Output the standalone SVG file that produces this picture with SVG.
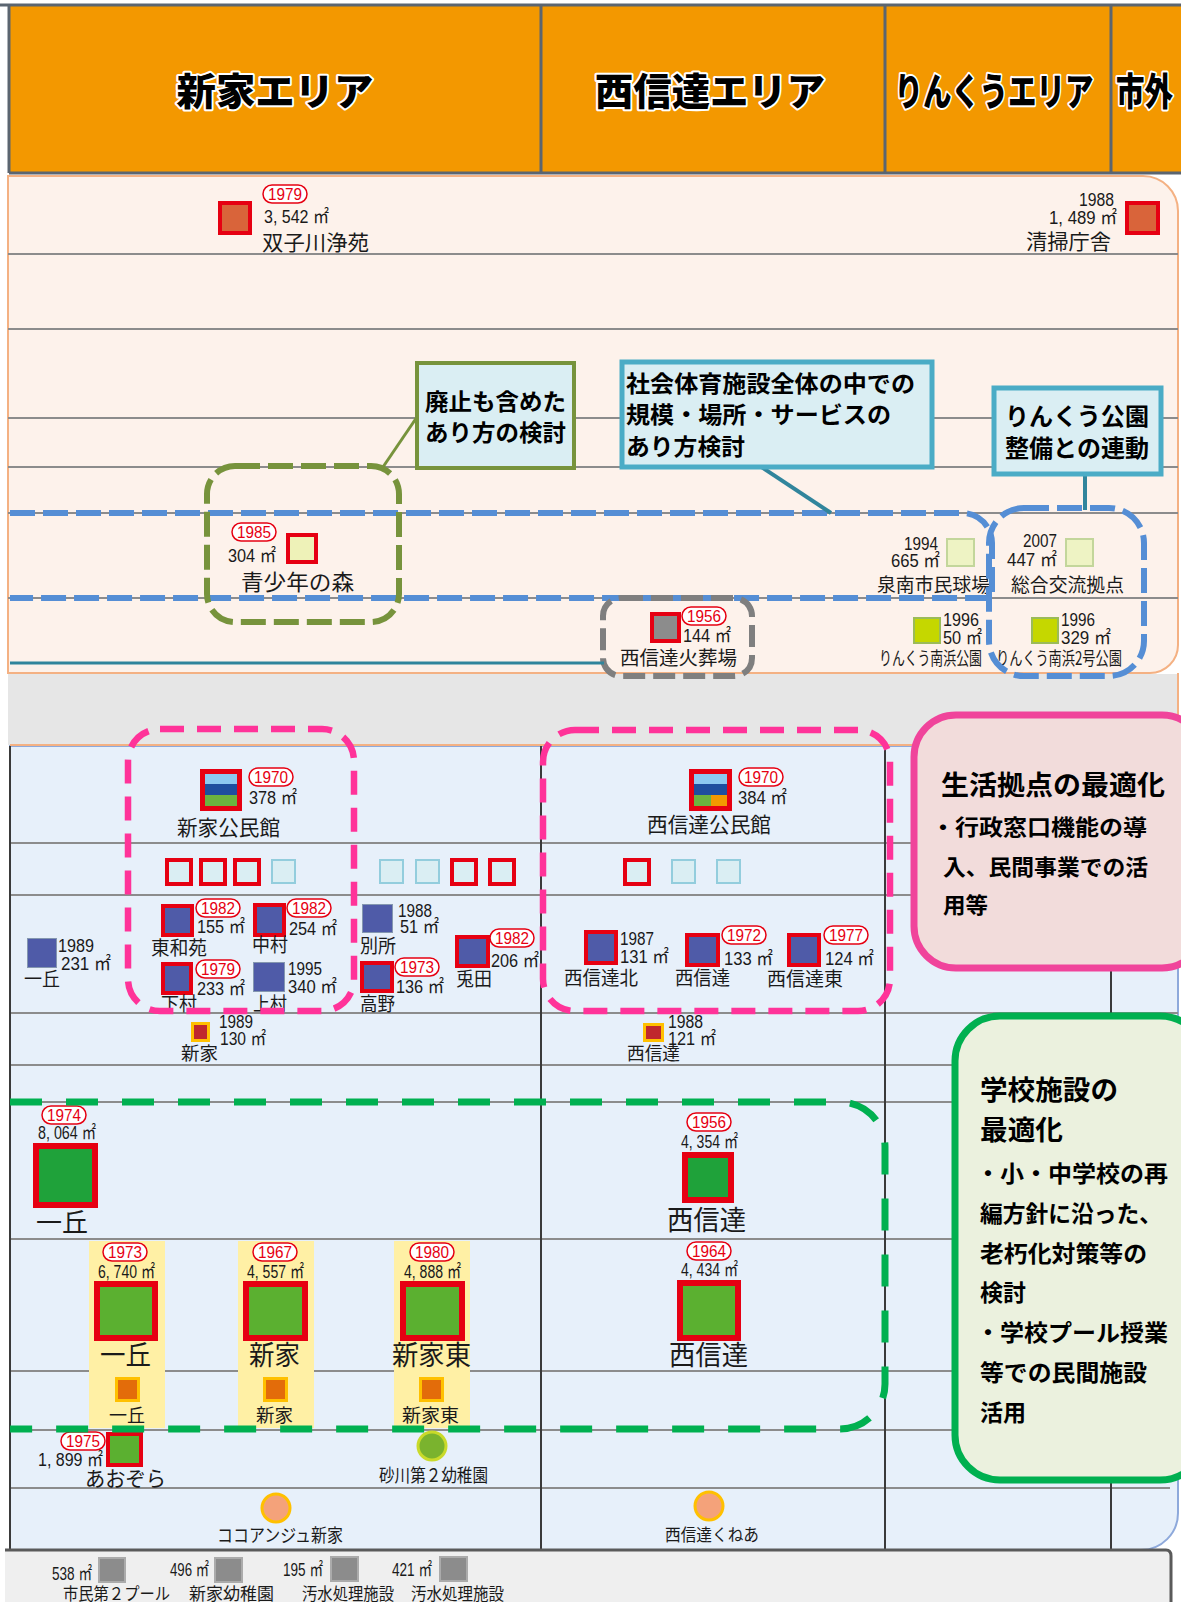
<svg xmlns="http://www.w3.org/2000/svg" width="1181" height="1602" viewBox="0 0 1181 1602">
<style>
.jp{font-family:"Noto Sans CJK JP","Noto Sans CJK SC",sans-serif;fill:#1a1a1a}
.n{font-family:"Liberation Sans","Noto Sans CJK JP",sans-serif;font-size:18px;fill:#1a1a1a}
.b{font-weight:700;fill:#000}
.hd{font-family:"Noto Sans CJK JP","Noto Sans CJK SC",sans-serif;font-weight:900;font-size:38px;fill:#000;stroke:#fff;stroke-width:4;paint-order:stroke;stroke-linejoin:round}
.yb{fill:#fff;stroke:#E60012;stroke-width:1.5}
.yt{font-family:"Liberation Sans",sans-serif;font-size:16px;fill:#E60012;text-anchor:middle}
.ln{stroke:#8C8C8C;stroke-width:2;fill:none}
.dv{stroke:#3A3A3A;stroke-width:2;fill:none}
.hb{stroke:#5B6570;stroke-width:3;fill:none}
.red{stroke:#E60012;stroke-width:4}
.cc{fill:#4F5BA8}
.pl{stroke:#8497B0;stroke-width:1}
.mb{fill:#DAEEF3}
.lb{fill:#DAEEF3;stroke:#93CDDD;stroke-width:2}
.sch{fill:#5BB030;stroke:#E60012;stroke-width:6}
.org{fill:#E36C0A;stroke:#FFC000;stroke-width:3}
.gry{fill:#8C8C8C;stroke:#ABABAB;stroke-width:2}
.box{fill:#DAEEF3}
.dash{fill:none}
</style>
<rect x="0" y="0" width="1181" height="1602" fill="#fff"/>

<g id="background">
  <path d="M8,176 H1143 A35,35 0 0 1 1178,211 V645 A28,28 0 0 1 1150,673 H8 Z" fill="#FDF2EB" stroke="#F4B183" stroke-width="2"/>
  <g class="ln">
    <line x1="8" y1="254" x2="1178" y2="254"/>
    <line x1="8" y1="329" x2="1178" y2="329"/>
    <line x1="8" y1="418" x2="1178" y2="418"/>
    <line x1="8" y1="467" x2="1178" y2="467"/>
    <line x1="8" y1="513" x2="1178" y2="513"/>
    <line x1="8" y1="598" x2="1178" y2="598"/>
  </g>
  <rect x="8" y="674" width="1170" height="71" fill="#E6E6E6"/>
  <line x1="1178" y1="673" x2="1178" y2="746" stroke="#F4B183" stroke-width="2"/>
  <path d="M10,746 H1178 V1513 A37,37 0 0 1 1141,1550 H10 Z" fill="#E7F0FA" stroke="#8EA9DB" stroke-width="2"/>
  <line x1="10" y1="745" x2="1178" y2="745" stroke="#F4B183" stroke-width="2"/>
  <g class="ln">
    <line x1="10" y1="843" x2="1178" y2="843"/>
    <line x1="10" y1="895" x2="1178" y2="895"/>
    <line x1="10" y1="1013" x2="1178" y2="1013"/>
    <line x1="10" y1="1065" x2="1178" y2="1065"/>
    <line x1="10" y1="1102" x2="1178" y2="1102"/>
    <line x1="10" y1="1239" x2="1178" y2="1239"/>
    <line x1="10" y1="1371" x2="1178" y2="1371"/>
    <line x1="10" y1="1430" x2="1178" y2="1430"/>
    <line x1="10" y1="1488" x2="1170" y2="1488"/>
  </g>
  <g class="dv">
    <line x1="541" y1="746" x2="541" y2="1550"/>
    <line x1="885" y1="746" x2="885" y2="1550"/>
    <line x1="1111" y1="746" x2="1111" y2="1550"/>
    <line x1="10" y1="746" x2="10" y2="1550"/>
  </g>
  <rect x="5" y="1551" width="1165" height="52" fill="#EFEFEF"/>
  <path d="M5,1550 H1166 Q1171,1550 1171,1556 V1602" fill="none" stroke="#5A5A5A" stroke-width="3"/>
  <rect x="89" y="1241" width="76" height="187" fill="#FFF0A5"/>
  <rect x="238" y="1241" width="76" height="187" fill="#FFF0A5"/>
  <rect x="394" y="1241" width="76" height="187" fill="#FFF0A5"/>
</g>

<g id="header">
  <rect x="9" y="5" width="1175" height="168" fill="#F39800"/>
  <g class="hb">
    <line x1="0" y1="5" x2="1181" y2="5"/>
    <line x1="9" y1="173" x2="1181" y2="173"/>
    <line x1="9" y1="5" x2="9" y2="173"/>
    <line x1="541" y1="5" x2="541" y2="173"/>
    <line x1="885" y1="5" x2="885" y2="173"/>
    <line x1="1111" y1="5" x2="1111" y2="173"/>
  </g>
  <text class="hd" x="275" y="105" text-anchor="middle" textLength="197" lengthAdjust="spacingAndGlyphs">新家エリア</text>
  <text class="hd" x="710" y="105" text-anchor="middle" textLength="230" lengthAdjust="spacingAndGlyphs">西信達エリア</text>
  <text class="hd" x="994" y="105" text-anchor="middle" textLength="199" lengthAdjust="spacingAndGlyphs">りんくうエリア</text>
  <text class="hd" x="1116" y="105" textLength="57" lengthAdjust="spacingAndGlyphs">市外</text>
</g>

<g id="nodes">
  <g id="n-futagogawa">
    <rect x="220" y="203" width="30" height="30" fill="#D9643A" class="red"/>
    <rect class="yb" x="263" y="185" width="44" height="18" rx="9"/><text class="yt" x="285" y="199.5" textLength="34" lengthAdjust="spacingAndGlyphs">1979</text>
    <text class="n" x="264" y="223" textLength="65" lengthAdjust="spacingAndGlyphs">3, 542 ㎡</text>
    <text class="jp" x="262" y="250" font-size="21" textLength="107" lengthAdjust="spacingAndGlyphs">双子川浄苑</text>
  </g>
  <g id="n-seisou">
    <rect x="1127" y="203" width="31" height="30" fill="#D9643A" class="red"/>
    <text class="n" x="1114" y="206" text-anchor="end" font-size="17" textLength="35" lengthAdjust="spacingAndGlyphs">1988</text>
    <text class="n" x="1117" y="224" text-anchor="end" textLength="68" lengthAdjust="spacingAndGlyphs">1, 489 ㎡</text>
    <text class="jp" x="1111" y="249" font-size="21" text-anchor="end" textLength="85" lengthAdjust="spacingAndGlyphs">清掃庁舎</text>
  </g>
  <g id="n-seishonen">
    <rect x="288" y="535" width="28" height="27" fill="#EEF2B8" class="red"/>
    <rect class="yb" x="232" y="523" width="44" height="18" rx="9"/><text class="yt" x="254" y="537.5" textLength="34" lengthAdjust="spacingAndGlyphs">1985</text>
    <text class="n" x="228" y="562" textLength="48" lengthAdjust="spacingAndGlyphs">304 ㎡</text>
    <text class="jp" x="241" y="590" font-size="22" textLength="113" lengthAdjust="spacingAndGlyphs">青少年の森</text>
  </g>
  <g id="n-kasoba">
    <rect x="652" y="614" width="27" height="27" fill="#8C8C8C" class="red"/>
    <rect class="yb" x="682" y="607" width="44" height="18" rx="9"/><text class="yt" x="704" y="621.5" textLength="34" lengthAdjust="spacingAndGlyphs">1956</text>
    <text class="n" x="683" y="642" textLength="48" lengthAdjust="spacingAndGlyphs">144 ㎡</text>
    <text class="jp" x="620" y="665" font-size="19" textLength="117" lengthAdjust="spacingAndGlyphs">西信達火葬場</text>
  </g>
  <g id="n-kyujo">
    <rect x="947" y="539" width="27" height="27" fill="#EEF3C4" stroke="#C3D69B" stroke-width="2"/>
    <text class="n" x="938" y="550" text-anchor="end" textLength="34" lengthAdjust="spacingAndGlyphs">1994</text>
    <text class="n" x="940" y="567" text-anchor="end" textLength="49" lengthAdjust="spacingAndGlyphs">665 ㎡</text>
    <text class="jp" x="877" y="592" font-size="19" textLength="113" lengthAdjust="spacingAndGlyphs">泉南市民球場</text>
  </g>
  <g id="n-sogo">
    <rect x="1066" y="539" width="27" height="27" fill="#EEF3C4" stroke="#C3D69B" stroke-width="2"/>
    <text class="n" x="1023" y="547" textLength="34" lengthAdjust="spacingAndGlyphs">2007</text>
    <text class="n" x="1007" y="566" textLength="50" lengthAdjust="spacingAndGlyphs">447 ㎡</text>
    <text class="jp" x="1011" y="592" font-size="19" textLength="113" lengthAdjust="spacingAndGlyphs">総合交流拠点</text>
  </g>
  <g id="n-minamihama">
    <rect x="914" y="618" width="26" height="25" fill="#C5D700" stroke="#9BBB59" stroke-width="2"/>
    <text class="n" x="943" y="626" textLength="36" lengthAdjust="spacingAndGlyphs">1996</text>
    <text class="n" x="943" y="644" textLength="39" lengthAdjust="spacingAndGlyphs">50 ㎡</text>
    <text class="jp" x="879" y="665" font-size="18" textLength="103" lengthAdjust="spacingAndGlyphs">りんくう南浜公園</text>
  </g>
  <g id="n-minamihama2">
    <rect x="1032" y="618" width="26" height="25" fill="#C5D700" stroke="#9BBB59" stroke-width="2"/>
    <text class="n" x="1061" y="626" textLength="34" lengthAdjust="spacingAndGlyphs">1996</text>
    <text class="n" x="1061" y="644" textLength="50" lengthAdjust="spacingAndGlyphs">329 ㎡</text>
    <text class="jp" x="996" y="665" font-size="18" textLength="126" lengthAdjust="spacingAndGlyphs">りんくう南浜2号公園</text>
  </g>

  <g id="n-shinge-kominkan">
    <rect x="205" y="774" width="32" height="10" fill="#8DC8F0"/>
    <rect x="205" y="784" width="32" height="11" fill="#1F4E9E"/>
    <rect x="205" y="795" width="32" height="11" fill="#6CB33F"/>
    <rect x="202.5" y="771.5" width="37" height="37" fill="none" stroke="#E60012" stroke-width="5"/>
    <rect class="yb" x="249" y="768" width="44" height="18" rx="9"/><text class="yt" x="271" y="782.5" textLength="34" lengthAdjust="spacingAndGlyphs">1970</text>
    <text class="n" x="249" y="804" textLength="48" lengthAdjust="spacingAndGlyphs">378 ㎡</text>
    <text class="jp" x="177" y="835" font-size="21" textLength="103" lengthAdjust="spacingAndGlyphs">新家公民館</text>
  </g>
  <g id="n-nishinoda-kominkan">
    <rect x="694" y="774" width="33" height="10" fill="#8DC8F0"/>
    <rect x="694" y="784" width="33" height="11" fill="#1F4E9E"/>
    <rect x="694" y="795" width="17" height="11" fill="#6CB33F"/>
    <rect x="711" y="795" width="16" height="11" fill="#F39800"/>
    <rect x="691.5" y="771.5" width="38" height="37" fill="none" stroke="#E60012" stroke-width="5"/>
    <rect class="yb" x="739" y="768" width="44" height="18" rx="9"/><text class="yt" x="761" y="782.5" textLength="34" lengthAdjust="spacingAndGlyphs">1970</text>
    <text class="n" x="738" y="804" textLength="49" lengthAdjust="spacingAndGlyphs">384 ㎡</text>
    <text class="jp" x="647" y="832" font-size="21" textLength="124" lengthAdjust="spacingAndGlyphs">西信達公民館</text>
  </g>

  <g id="n-meeting-squares">
    <rect class="mb red" x="167" y="860" width="24" height="24"/>
    <rect class="mb red" x="201" y="860" width="24" height="24"/>
    <rect class="mb red" x="235" y="860" width="24" height="24"/>
    <rect class="lb" x="272" y="860" width="23" height="23"/>
    <rect class="lb" x="380" y="860" width="23" height="23"/>
    <rect class="lb" x="416" y="860" width="23" height="23"/>
    <rect class="mb red" x="452" y="860" width="24" height="24"/>
    <rect class="mb red" x="490" y="860" width="24" height="24"/>
    <rect class="mb red" x="625" y="860" width="24" height="24"/>
    <rect class="lb" x="672" y="860" width="23" height="23"/>
    <rect class="lb" x="717" y="860" width="23" height="23"/>
  </g>

  <g id="n-ichioka-c">
    <rect class="cc pl" x="27.5" y="938.5" width="29" height="29"/>
    <text class="n" x="58" y="952" textLength="36" lengthAdjust="spacingAndGlyphs">1989</text>
    <text class="n" x="61" y="970" textLength="50" lengthAdjust="spacingAndGlyphs">231 ㎡</text>
    <text class="jp" x="24" y="986" font-size="19" textLength="36" lengthAdjust="spacingAndGlyphs">一丘</text>
  </g>
  <g id="n-towaen">
    <rect class="cc red" x="163" y="906" width="29" height="29"/>
    <rect class="yb" x="196" y="899" width="44" height="18" rx="9"/><text class="yt" x="218" y="913.5" textLength="34" lengthAdjust="spacingAndGlyphs">1982</text>
    <text class="n" x="197" y="933" textLength="48" lengthAdjust="spacingAndGlyphs">155 ㎡</text>
    <text class="jp" x="151" y="955" font-size="19" textLength="56" lengthAdjust="spacingAndGlyphs">東和苑</text>
  </g>
  <g id="n-nakamura">
    <rect class="cc red" x="255" y="905" width="29" height="30"/>
    <rect class="yb" x="287" y="899" width="44" height="18" rx="9"/><text class="yt" x="309" y="913.5" textLength="34" lengthAdjust="spacingAndGlyphs">1982</text>
    <text class="n" x="289" y="935" textLength="48" lengthAdjust="spacingAndGlyphs">254 ㎡</text>
    <text class="jp" x="252" y="952" font-size="19" textLength="36" lengthAdjust="spacingAndGlyphs">中村</text>
  </g>
  <g id="n-shimomura">
    <rect class="cc red" x="163" y="964" width="28" height="29"/>
    <rect class="yb" x="196" y="960" width="44" height="18" rx="9"/><text class="yt" x="218" y="974.5" textLength="34" lengthAdjust="spacingAndGlyphs">1979</text>
    <text class="n" x="197" y="995" textLength="48" lengthAdjust="spacingAndGlyphs">233 ㎡</text>
    <text class="jp" x="161" y="1011" font-size="19" textLength="36" lengthAdjust="spacingAndGlyphs">下村</text>
  </g>
  <g id="n-kamimura">
    <rect class="cc pl" x="253.5" y="962.5" width="31" height="29"/>
    <text class="n" x="288" y="975" textLength="34" lengthAdjust="spacingAndGlyphs">1995</text>
    <text class="n" x="288" y="993" textLength="49" lengthAdjust="spacingAndGlyphs">340 ㎡</text>
    <text class="jp" x="253" y="1011" font-size="19" textLength="34" lengthAdjust="spacingAndGlyphs">上村</text>
  </g>
  <g id="n-bessho">
    <rect class="cc pl" x="362.5" y="904.5" width="30" height="28"/>
    <text class="n" x="398" y="917" textLength="34" lengthAdjust="spacingAndGlyphs">1988</text>
    <text class="n" x="400" y="933" textLength="39" lengthAdjust="spacingAndGlyphs">51 ㎡</text>
    <text class="jp" x="360" y="953" font-size="19" textLength="36" lengthAdjust="spacingAndGlyphs">別所</text>
  </g>
  <g id="n-takano">
    <rect class="cc red" x="362" y="963" width="30" height="28"/>
    <rect class="yb" x="395" y="958" width="44" height="18" rx="9"/><text class="yt" x="417" y="972.5" textLength="34" lengthAdjust="spacingAndGlyphs">1973</text>
    <text class="n" x="396" y="993" textLength="48" lengthAdjust="spacingAndGlyphs">136 ㎡</text>
    <text class="jp" x="360" y="1011" font-size="19" textLength="35" lengthAdjust="spacingAndGlyphs">高野</text>
  </g>
  <g id="n-usagida">
    <rect class="cc red" x="457" y="937" width="31" height="29"/>
    <rect class="yb" x="490" y="929" width="44" height="18" rx="9"/><text class="yt" x="512" y="943.5" textLength="34" lengthAdjust="spacingAndGlyphs">1982</text>
    <text class="n" x="491" y="967" textLength="48" lengthAdjust="spacingAndGlyphs">206 ㎡</text>
    <text class="jp" x="456" y="986" font-size="19" textLength="36" lengthAdjust="spacingAndGlyphs">兎田</text>
  </g>
  <g id="n-nishinoda-kita">
    <rect class="cc red" x="586" y="932" width="30" height="31"/>
    <text class="n" x="620" y="945" textLength="34" lengthAdjust="spacingAndGlyphs">1987</text>
    <text class="n" x="620" y="963" textLength="49" lengthAdjust="spacingAndGlyphs">131 ㎡</text>
    <text class="jp" x="564" y="985" font-size="19" textLength="74" lengthAdjust="spacingAndGlyphs">西信達北</text>
  </g>
  <g id="n-nishinoda-c">
    <rect class="cc red" x="687" y="935" width="31" height="30"/>
    <rect class="yb" x="722" y="926" width="44" height="18" rx="9"/><text class="yt" x="744" y="940.5" textLength="34" lengthAdjust="spacingAndGlyphs">1972</text>
    <text class="n" x="724" y="965" textLength="49" lengthAdjust="spacingAndGlyphs">133 ㎡</text>
    <text class="jp" x="675" y="985" font-size="19" textLength="55" lengthAdjust="spacingAndGlyphs">西信達</text>
  </g>
  <g id="n-nishinoda-higashi">
    <rect class="cc red" x="789" y="935" width="30" height="30"/>
    <rect class="yb" x="824" y="926" width="44" height="18" rx="9"/><text class="yt" x="846" y="940.5" textLength="34" lengthAdjust="spacingAndGlyphs">1977</text>
    <text class="n" x="825" y="965" textLength="49" lengthAdjust="spacingAndGlyphs">124 ㎡</text>
    <text class="jp" x="767" y="986" font-size="19" textLength="76" lengthAdjust="spacingAndGlyphs">西信達東</text>
  </g>

  <g id="n-shinge-small">
    <rect x="192.5" y="1023.5" width="16" height="17" fill="#C0282D" stroke="#FFC000" stroke-width="3"/>
    <text class="n" x="219" y="1028" font-size="16" textLength="34" lengthAdjust="spacingAndGlyphs">1989</text>
    <text class="n" x="220" y="1045" font-size="17" textLength="46" lengthAdjust="spacingAndGlyphs">130 ㎡</text>
    <text class="jp" x="181" y="1060" font-size="18" textLength="37" lengthAdjust="spacingAndGlyphs">新家</text>
  </g>
  <g id="n-nishinoda-small">
    <rect x="644.5" y="1024.5" width="18" height="16" fill="#C0282D" stroke="#FFC000" stroke-width="3"/>
    <text class="n" x="668" y="1028" font-size="16" textLength="35" lengthAdjust="spacingAndGlyphs">1988</text>
    <text class="n" x="668" y="1045" font-size="17" textLength="48" lengthAdjust="spacingAndGlyphs">121 ㎡</text>
    <text class="jp" x="627" y="1060" font-size="18" textLength="53" lengthAdjust="spacingAndGlyphs">西信達</text>
  </g>

  <g id="n-ichioka-jhs">
    <rect x="36" y="1146" width="59" height="59" fill="#1FA23A" stroke="#E60012" stroke-width="6"/>
    <rect class="yb" x="42" y="1106" width="44" height="18" rx="9"/><text class="yt" x="64" y="1120.5" textLength="34" lengthAdjust="spacingAndGlyphs">1974</text>
    <text class="n" x="38" y="1139" font-size="16" textLength="58" lengthAdjust="spacingAndGlyphs">8, 064 ㎡</text>
    <text class="jp" x="36" y="1232" font-size="26" textLength="52" lengthAdjust="spacingAndGlyphs">一丘</text>
  </g>
  <g id="n-nishinoda-jhs">
    <rect x="685" y="1155" width="46" height="45" fill="#1FA23A" stroke="#E60012" stroke-width="6"/>
    <rect class="yb" x="687" y="1113" width="44" height="18" rx="9"/><text class="yt" x="709" y="1127.5" textLength="34" lengthAdjust="spacingAndGlyphs">1956</text>
    <text class="n" x="681" y="1148" font-size="16" textLength="57" lengthAdjust="spacingAndGlyphs">4, 354 ㎡</text>
    <text class="jp" x="667" y="1230" font-size="27" textLength="79" lengthAdjust="spacingAndGlyphs">西信達</text>
  </g>
  <g id="n-ichioka-es">
    <rect class="sch" x="97" y="1284" width="58" height="54"/>
    <rect class="yb" x="103" y="1243" width="44" height="18" rx="9"/><text class="yt" x="125" y="1257.5" textLength="34" lengthAdjust="spacingAndGlyphs">1973</text>
    <text class="n" x="98" y="1278" font-size="16" textLength="57" lengthAdjust="spacingAndGlyphs">6, 740 ㎡</text>
    <text class="jp" x="100" y="1365" font-size="27" textLength="51" lengthAdjust="spacingAndGlyphs">一丘</text>
  </g>
  <g id="n-shinge-es">
    <rect class="sch" x="246" y="1284" width="59" height="54"/>
    <rect class="yb" x="253" y="1243" width="44" height="18" rx="9"/><text class="yt" x="275" y="1257.5" textLength="34" lengthAdjust="spacingAndGlyphs">1967</text>
    <text class="n" x="247" y="1278" font-size="16" textLength="57" lengthAdjust="spacingAndGlyphs">4, 557 ㎡</text>
    <text class="jp" x="249" y="1365" font-size="27" textLength="51" lengthAdjust="spacingAndGlyphs">新家</text>
  </g>
  <g id="n-shingehigashi-es">
    <rect class="sch" x="403" y="1284" width="59" height="54"/>
    <rect class="yb" x="410" y="1243" width="44" height="18" rx="9"/><text class="yt" x="432" y="1257.5" textLength="34" lengthAdjust="spacingAndGlyphs">1980</text>
    <text class="n" x="404" y="1278" font-size="16" textLength="57" lengthAdjust="spacingAndGlyphs">4, 888 ㎡</text>
    <text class="jp" x="392" y="1365" font-size="27" textLength="79" lengthAdjust="spacingAndGlyphs">新家東</text>
  </g>
  <g id="n-nishinoda-es">
    <rect class="sch" x="680" y="1283" width="58" height="55"/>
    <rect class="yb" x="687" y="1242" width="44" height="18" rx="9"/><text class="yt" x="709" y="1256.5" textLength="34" lengthAdjust="spacingAndGlyphs">1964</text>
    <text class="n" x="681" y="1276" font-size="16" textLength="57" lengthAdjust="spacingAndGlyphs">4, 434 ㎡</text>
    <text class="jp" x="669" y="1365" font-size="27" textLength="79" lengthAdjust="spacingAndGlyphs">西信達</text>
  </g>

  <g id="n-ichioka-club">
    <rect class="org" x="116.5" y="1378.5" width="22" height="22"/>
    <text class="jp" x="109" y="1422" font-size="18" textLength="36" lengthAdjust="spacingAndGlyphs">一丘</text>
  </g>
  <g id="n-shinge-club">
    <rect class="org" x="264.5" y="1378.5" width="22" height="22"/>
    <text class="jp" x="256" y="1422" font-size="18" textLength="37" lengthAdjust="spacingAndGlyphs">新家</text>
  </g>
  <g id="n-shingehigashi-club">
    <rect class="org" x="420.5" y="1378.5" width="22" height="22"/>
    <text class="jp" x="402" y="1422" font-size="18" textLength="57" lengthAdjust="spacingAndGlyphs">新家東</text>
  </g>

  <g id="n-aozora">
    <rect x="108" y="1434" width="33" height="31" fill="#5BB030" class="red"/>
    <rect class="yb" x="61" y="1432" width="44" height="18" rx="9"/><text class="yt" x="83" y="1446.5" textLength="34" lengthAdjust="spacingAndGlyphs">1975</text>
    <text class="n" x="38" y="1466" font-size="17" textLength="65" lengthAdjust="spacingAndGlyphs">1, 899 ㎡</text>
    <text class="jp" x="85" y="1486" font-size="21" textLength="81" lengthAdjust="spacingAndGlyphs">あおぞら</text>
  </g>
  <g id="n-sunagawa">
    <circle cx="432" cy="1446" r="14" fill="#7AB32E" stroke="#C9DA2A" stroke-width="3"/>
    <text class="jp" x="379" y="1482" font-size="18" textLength="109" lengthAdjust="spacingAndGlyphs">砂川第２幼稚園</text>
  </g>
  <g id="n-cocoange">
    <circle cx="276" cy="1508" r="14" fill="#F4A27A" stroke="#FFC000" stroke-width="3"/>
    <text class="jp" x="217" y="1542" font-size="18" textLength="126" lengthAdjust="spacingAndGlyphs">ココアンジュ新家</text>
  </g>
  <g id="n-kunea">
    <circle cx="709" cy="1506" r="14" fill="#F4A27A" stroke="#FFC000" stroke-width="3"/>
    <text class="jp" x="665" y="1541" font-size="17" textLength="94" lengthAdjust="spacingAndGlyphs">西信達くねあ</text>
  </g>

  <g id="n-pool2">
    <rect class="gry" x="99" y="1558" width="26" height="24"/>
    <text class="n" x="52" y="1580" font-size="16" textLength="40" lengthAdjust="spacingAndGlyphs">538 ㎡</text>
    <text class="jp" x="63" y="1600" font-size="17" textLength="107" lengthAdjust="spacingAndGlyphs">市民第２プール</text>
  </g>
  <g id="n-shinge-kinder">
    <rect class="gry" x="215" y="1558" width="27" height="24"/>
    <text class="n" x="170" y="1576" font-size="16" textLength="39" lengthAdjust="spacingAndGlyphs">496 ㎡</text>
    <text class="jp" x="189" y="1600" font-size="17" textLength="85" lengthAdjust="spacingAndGlyphs">新家幼稚園</text>
  </g>
  <g id="n-sewage1">
    <rect class="gry" x="331" y="1557" width="27" height="24"/>
    <text class="n" x="283" y="1576" font-size="16" textLength="40" lengthAdjust="spacingAndGlyphs">195 ㎡</text>
    <text class="jp" x="302" y="1600" font-size="17" textLength="92" lengthAdjust="spacingAndGlyphs">汚水処理施設</text>
  </g>
  <g id="n-sewage2">
    <rect class="gry" x="440" y="1557" width="27" height="24"/>
    <text class="n" x="392" y="1576" font-size="16" textLength="40" lengthAdjust="spacingAndGlyphs">421 ㎡</text>
    <text class="jp" x="411" y="1600" font-size="17" textLength="93" lengthAdjust="spacingAndGlyphs">汚水処理施設</text>
  </g>
</g>

<g id="groupings">
  <path class="dash" d="M10,513 H962 A30,30 0 0 1 992,543 V598 H10" stroke="#558ED5" stroke-width="6" stroke-dasharray="25 8"/>
  <rect class="dash" x="989" y="508" width="155" height="168" rx="35" stroke="#558ED5" stroke-width="6" stroke-dasharray="25 8"/>
  <rect class="dash" x="207" y="466" width="192" height="156" rx="28" stroke="#77933C" stroke-width="6" stroke-dasharray="25 8"/>
  <rect class="dash" x="603" y="598" width="149" height="78" rx="18" stroke="#7F7F7F" stroke-width="6" stroke-dasharray="22 8"/>
  <rect class="dash" x="128" y="729" width="226" height="282" rx="32" stroke="#FF3399" stroke-width="6.5" stroke-dasharray="24 13"/>
  <rect class="dash" x="543" y="730" width="347" height="281" rx="32" stroke="#FF3399" stroke-width="6.5" stroke-dasharray="24 13"/>
  <path class="dash" d="M10,1102 H840 A45,45 0 0 1 885,1147 V1384 A45,45 0 0 1 840,1429 H10" stroke="#00B050" stroke-width="7" stroke-dasharray="32 24"/>
</g>

<g id="connectors" fill="none">
  <line x1="383" y1="467" x2="417" y2="417" stroke="#77933C" stroke-width="3"/>
  <line x1="760" y1="466" x2="831" y2="513" stroke="#31859C" stroke-width="4"/>
  <line x1="1085" y1="474" x2="1085" y2="510" stroke="#31859C" stroke-width="4"/>
  <line x1="10" y1="663" x2="604" y2="663" stroke="#31859C" stroke-width="3"/>
</g>

<g id="callout-haishi">
  <rect class="box" x="417" y="363" width="157" height="105" stroke="#77933C" stroke-width="4"/>
  <text class="jp b" x="425" y="410" font-size="23" textLength="141" lengthAdjust="spacingAndGlyphs">廃止も含めた</text>
  <text class="jp b" x="425" y="441" font-size="23" textLength="141" lengthAdjust="spacingAndGlyphs">あり方の検討</text>
</g>
<g id="callout-shakai">
  <rect class="box" x="622" y="362" width="310" height="105" stroke="#4BACC6" stroke-width="5"/>
  <text class="jp b" x="626" y="392" font-size="23" textLength="289" lengthAdjust="spacingAndGlyphs">社会体育施設全体の中での</text>
  <text class="jp b" x="626" y="423" font-size="23" textLength="265" lengthAdjust="spacingAndGlyphs">規模・場所・サービスの</text>
  <text class="jp b" x="626" y="455" font-size="23" textLength="119" lengthAdjust="spacingAndGlyphs">あり方検討</text>
</g>
<g id="callout-rinku">
  <rect class="box" x="994" y="388" width="167" height="86" stroke="#4BACC6" stroke-width="5"/>
  <text class="jp b" x="1005" y="425" font-size="24" textLength="144" lengthAdjust="spacingAndGlyphs">りんくう公園</text>
  <text class="jp b" x="1005" y="457" font-size="24" textLength="144" lengthAdjust="spacingAndGlyphs">整備との連動</text>
</g>
<g id="callout-seikatsu">
  <rect x="914" y="715" width="290" height="253" rx="42" fill="#F2DCDB" stroke="#F0449B" stroke-width="7"/>
  <text class="jp b" x="941" y="795" font-size="27" textLength="224" lengthAdjust="spacingAndGlyphs">生活拠点の最適化</text>
  <text class="jp b" x="931" y="835" font-size="22" textLength="216" lengthAdjust="spacingAndGlyphs">・行政窓口機能の導</text>
  <text class="jp b" x="943" y="875" font-size="22" textLength="205" lengthAdjust="spacingAndGlyphs">入、民間事業での活</text>
  <text class="jp b" x="943" y="913" font-size="22" textLength="45" lengthAdjust="spacingAndGlyphs">用等</text>
</g>
<g id="callout-gakko">
  <rect x="955" y="1016" width="250" height="464" rx="45" fill="#EBF1DE" stroke="#00B050" stroke-width="7"/>
  <text class="jp b" x="980" y="1100" font-size="27" textLength="138" lengthAdjust="spacingAndGlyphs">学校施設の</text>
  <text class="jp b" x="980" y="1140" font-size="27" textLength="83" lengthAdjust="spacingAndGlyphs">最適化</text>
  <text class="jp b" x="976" y="1182" font-size="23" textLength="192" lengthAdjust="spacingAndGlyphs">・小・中学校の再</text>
  <text class="jp b" x="980" y="1222" font-size="23" textLength="182" lengthAdjust="spacingAndGlyphs">編方針に沿った、</text>
  <text class="jp b" x="980" y="1262" font-size="23" textLength="167" lengthAdjust="spacingAndGlyphs">老朽化対策等の</text>
  <text class="jp b" x="980" y="1301" font-size="23" textLength="46" lengthAdjust="spacingAndGlyphs">検討</text>
  <text class="jp b" x="976" y="1341" font-size="23" textLength="192" lengthAdjust="spacingAndGlyphs">・学校プール授業</text>
  <text class="jp b" x="980" y="1381" font-size="23" textLength="167" lengthAdjust="spacingAndGlyphs">等での民間施設</text>
  <text class="jp b" x="980" y="1421" font-size="23" textLength="46" lengthAdjust="spacingAndGlyphs">活用</text>
</g>
</svg>
